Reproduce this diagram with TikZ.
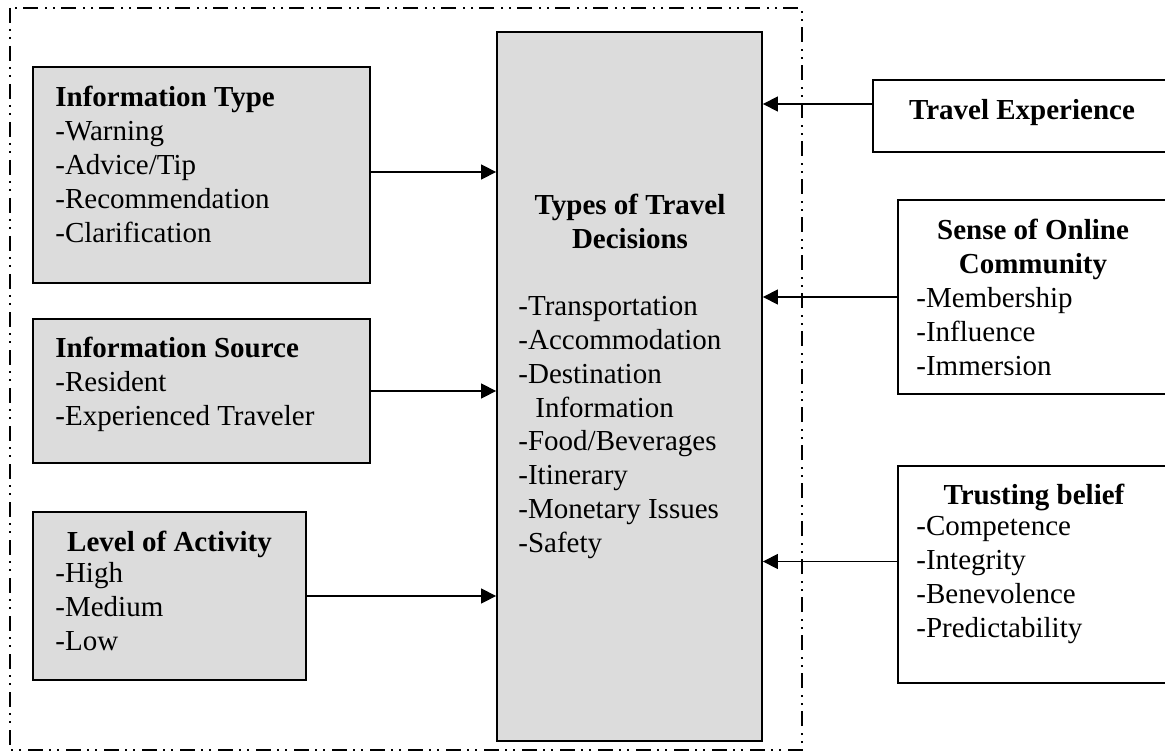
\documentclass[tikz,border=0pt]{standalone}
\usepackage{fontspec}
\setmainfont{Liberation Serif}
\usepackage{xcolor}
\usepackage{tikz}
\usetikzlibrary{arrows.meta, positioning, fit, calc}
\definecolor{boxgray}{RGB}{220,220,220}
\newcommand{\boxfont}{\fontsize{14.5}{16.9}\selectfont}
\tikzstyle{factor} = [rectangle, draw=black, line width=0.9pt, fill=boxgray, inner sep=0pt]
\tikzstyle{outside} = [rectangle, draw=black, line width=0.9pt, fill=white, inner sep=0pt]
\tikzstyle{boxtext} = [inner sep=0pt, align=left, font=\boxfont]
\tikzstyle{boxtitle} = [inner sep=0pt, align=center, font=\boxfont\bfseries]
\tikzstyle{arrow} = [line width=0.65pt, -{Triangle[length=7.5pt, width=7.5pt]}]
\tikzstyle{frame} = [line width=0.8pt, dash pattern=on 7.5pt off 3pt on 1pt off 3pt on 1pt off 3.5pt]

\begin{document}
\begin{tikzpicture}[x=0.5pt, y=-0.5pt]
\useasboundingbox (0,0) rectangle (1165,753);
\clip (0,0) rectangle (1165,753);

% frame round the model
\draw[frame] (10,8) rectangle (802,750);

% left side
\node[factor, fit={(33,67) (370,283)}] (itype) {};
\node[boxtext, anchor=north west] (itypetext) at (55,86) {\textbf{Information Type}\\-Warning\\-Advice/Tip\\-Recommendation\\-Clarification};

\node[factor, fit={(33,319) (370,463)}] (isource) {};
\node[boxtext, anchor=north west] (isourcetext) at (55,337) {\textbf{Information Source}\\-Resident\\-Experienced Traveler};

\node[factor, fit={(33,512) (306,680)}] (level) {};
\node[boxtitle, anchor=north] (leveltitle) at (169.5,531) {Level of Activity};
\node[boxtext, anchor=north west] (leveltext) at (55,562) {-High\\-Medium\\-Low};

% middle
\node[factor, fit={(497,32) (762,741)}] (central) {};
\node[boxtitle, anchor=north] (centraltitle) at (630,194) {Types of Travel\\Decisions};
\node[boxtext, anchor=north west] (centraltext) at (518,296) {-Transportation\\-Accommodation\\-Destination\\\hspace*{8.5pt}Information\\-Food/Beverages\\-Itinerary\\-Monetary Issues\\-Safety};

% right side
\node[outside, fit={(873,80) (1170,152)}] (travel) {};
\node[boxtitle, anchor=north] (traveltitle) at (1022,99) {Travel Experience};

\node[outside, fit={(898,200) (1170,394)}] (soc) {};
\node[boxtitle, anchor=north] (soctitle) at (1033,219) {Sense of Online\\Community};
\node[boxtext, anchor=north west] (soctext) at (916,287) {-Membership\\-Influence\\-Immersion};

\node[outside, fit={(898,466) (1170,683)}] (trust) {};
\node[boxtitle, anchor=north] (trusttitle) at (1034,484) {Trusting belief};
\node[boxtext, anchor=north west] (trusttext) at (916,516) {-Competence\\-Integrity\\-Benevolence\\-Predictability};

% arrows
\coordinate (itypeout) at ($(itype.east)+(0,-3)$);
\draw[arrow] (itypeout) -- (itypeout -| central.west);
\draw[arrow] (isource.east) -- (isource.east -| central.west);
\draw[arrow] (level.east) -- (level.east -| central.west);
\coordinate (travelout) at ($(travel.west)+(0,-12)$);
\draw[arrow] (travelout) -- (travelout -| central.east);
\draw[arrow] (soc.west) -- (soc.west -| central.east);
\coordinate (trustout) at ($(trust.west)+(0,-13)$);
\draw[arrow] (trustout) -- (trustout -| central.east);
\end{tikzpicture}
\end{document}
